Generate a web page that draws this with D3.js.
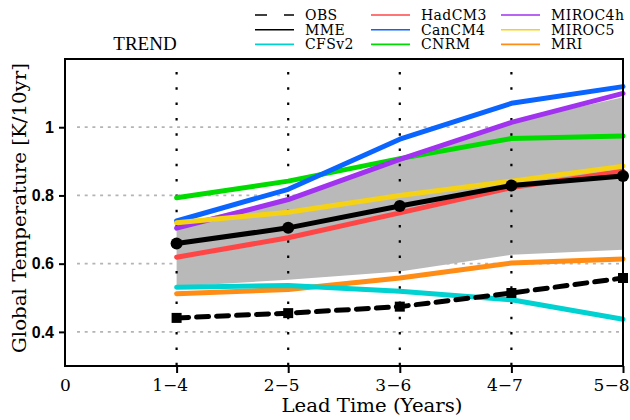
<!DOCTYPE html>
<html>
<head>
<meta charset="utf-8">
<script src="https://cdn.jsdelivr.net/npm/d3@7"></script>
<style>
  html, body { margin: 0; padding: 0; background: #fff; }
  svg { display: block; }
</style>
</head>
<body>
<svg id="chart" width="630" height="420"></svg>
<script>
// Lead-time windows (years) and the trend of global temperature [K/10yr]
const leadLabels = ["1−4", "2−5", "3−6", "4−7", "5−8"];
const leadPos = [1, 2, 3, 4, 5];
const yTicks = [0.4, 0.6, 0.8, 1.0];

const obs     = [0.441, 0.455, 0.474, 0.514, 0.558];
const mme     = [0.659, 0.705, 0.769, 0.829, 0.857];
const cfsv2   = [0.531, 0.536, 0.519, 0.494, 0.437];
const hadcm3  = [0.619, 0.676, 0.749, 0.823, 0.871];
const cancm4  = [0.725, 0.818, 0.965, 1.070, 1.119];
const cnrm    = [0.793, 0.842, 0.908, 0.967, 0.974];
const miroc4h = [0.704, 0.788, 0.906, 1.014, 1.099];
const miroc5  = [0.720, 0.751, 0.800, 0.842, 0.886];
const mri     = [0.512, 0.524, 0.558, 0.602, 0.614];

// model spread shading
const bandLow  = [0.533, 0.553, 0.577, 0.626, 0.641];
const bandHigh = [0.715, 0.790, 0.900, 1.015, 1.088];

const models = [
  { name: "CNRM",    values: cnrm,    color: "#00dc00" },
  { name: "MRI",     values: mri,     color: "#ff8c14" },
  { name: "HadCM3",  values: hadcm3,  color: "#ff4646" },
  { name: "CanCM4",  values: cancm4,  color: "#0a64ff" },
  { name: "MIROC4h", values: miroc4h, color: "#a032f0" },
  { name: "MIROC5",  values: miroc5,  color: "#f5d214" },
  { name: "CFSv2",   values: cfsv2,   color: "#00d2d2" }
];

const legendItems = [
  { name: "OBS",     color: "#000", dash: "12,17" },
  { name: "MME",     color: "#000" },
  { name: "CFSv2",   color: "#00d2d2" },
  { name: "HadCM3",  color: "#ff4646" },
  { name: "CanCM4",  color: "#0a64ff" },
  { name: "CNRM",    color: "#00dc00" },
  { name: "MIROC4h", color: "#a032f0" },
  { name: "MIROC5",  color: "#f5d214" },
  { name: "MRI",     color: "#ff8c14" }
];

const svg = d3.select("#chart");
const plotLeft = 65, plotRight = 623, plotTop = 59, plotBottom = 366;

const x = d3.scaleLinear().domain([0, 5]).range([plotLeft, plotRight]);
const y = d3.scaleLinear().domain([0.3, 1.2]).range([plotBottom, plotTop]);

const lineGen = d3.line().x((d, i) => x(leadPos[i])).y(d => y(d));

// horizontal dashed gridlines
svg.append("g").selectAll("line").data(yTicks).join("line")
  .attr("x1", plotLeft + 12).attr("x2", plotRight)
  .attr("y1", d => y(d)).attr("y2", d => y(d))
  .attr("stroke", "#b4b4b4").attr("stroke-width", 1.8)
  .attr("stroke-dasharray", "3,4.7");

// spread band
svg.append("path")
  .attr("d", d3.area()
    .x(d => x(d))
    .y0((d, i) => y(bandLow[i]))
    .y1((d, i) => y(bandHigh[i]))(leadPos))
  .attr("fill", "#b9b9b9");

// vertical dotted lines at each lead window
svg.append("g").selectAll("line").data(leadPos.slice(0, 4)).join("line")
  .attr("x1", d => x(d)).attr("x2", d => x(d))
  .attr("y1", plotTop + 13).attr("y2", plotBottom)
  .attr("stroke", "#000").attr("stroke-width", 2.2)
  .attr("stroke-dasharray", "2.5,12.8");

// model lines
svg.append("g").selectAll("path").data(models).join("path")
  .attr("d", d => lineGen(d.values))
  .attr("fill", "none")
  .attr("stroke", d => d.color)
  .attr("stroke-width", 5)
  .attr("stroke-linecap", "round")
  .attr("stroke-linejoin", "round");

// observations: dashed line with square markers
svg.append("path")
  .attr("d", lineGen(obs))
  .attr("fill", "none").attr("stroke", "#000")
  .attr("stroke-width", 5).attr("stroke-linecap", "round")
  .attr("stroke-dasharray", "12,8");
svg.append("g").selectAll("rect").data(obs).join("rect")
  .attr("x", (d, i) => x(leadPos[i]) - 5)
  .attr("y", d => y(d) - 5)
  .attr("width", 10).attr("height", 10)
  .attr("fill", "#000");

// multi-model ensemble mean with circle markers
svg.append("path")
  .attr("d", lineGen(mme))
  .attr("fill", "none").attr("stroke", "#000")
  .attr("stroke-width", 5).attr("stroke-linecap", "round")
  .attr("stroke-linejoin", "round");
svg.append("g").selectAll("circle").data(mme).join("circle")
  .attr("cx", (d, i) => x(leadPos[i]))
  .attr("cy", d => y(d))
  .attr("r", 6).attr("fill", "#000");

// frame
svg.append("rect")
  .attr("x", plotLeft).attr("y", plotTop)
  .attr("width", plotRight - plotLeft).attr("height", plotBottom - plotTop)
  .attr("fill", "none").attr("stroke", "#000").attr("stroke-width", 2);

// x axis
const xAxis = d3.axisBottom(x)
  .tickValues([0].concat(leadPos))
  .tickFormat(d => d === 0 ? "0" : leadLabels[d - 1])
  .tickSize(7).tickPadding(6);
const gx = svg.append("g").attr("transform", `translate(0,${plotBottom})`).call(xAxis);
gx.select(".domain").remove();
gx.selectAll(".tick line").attr("stroke", "#000").attr("stroke-width", 2)
  .filter(d => d === 0).remove();
gx.selectAll(".tick text")
  .attr("font-family", "DejaVu Serif").attr("font-size", 17).attr("fill", "#000")
  .attr("dx", d => d === 0 ? 0 : -7);
// keep the last lead label inside the canvas
gx.selectAll(".tick text").filter(d => d === 5)
  .attr("text-anchor", "end").attr("dx", 6);

// y axis
const yAxis = d3.axisLeft(y)
  .tickValues(yTicks)
  .tickFormat(d => d === 1 ? "1" : d3.format(".1f")(d))
  .tickSize(6).tickPadding(5);
const gy = svg.append("g").attr("transform", `translate(${plotLeft},0)`).call(yAxis);
gy.select(".domain").remove();
gy.selectAll(".tick line").attr("stroke", "#000").attr("stroke-width", 2);
gy.selectAll(".tick text")
  .attr("font-family", "Liberation Sans").attr("font-weight", "bold")
  .attr("font-size", 16).attr("fill", "#000");

// axis titles
svg.append("text")
  .attr("x", (plotLeft + plotRight) / 2 + 28).attr("y", 412)
  .attr("text-anchor", "middle")
  .attr("font-family", "DejaVu Serif").attr("font-size", 18)
  .attr("textLength", 181).attr("lengthAdjust", "spacingAndGlyphs")
  .text("Lead Time (Years)");

svg.append("text")
  .attr("transform", "translate(26,208) rotate(-90)")
  .attr("text-anchor", "middle")
  .attr("font-family", "DejaVu Serif").attr("font-size", 18)
  .attr("textLength", 290).attr("lengthAdjust", "spacingAndGlyphs")
  .text("Global Temperature [K/10yr]");

// panel title
svg.append("text")
  .attr("x", 145).attr("y", 50)
  .attr("text-anchor", "middle")
  .attr("font-family", "Liberation Serif").attr("font-size", 19)
  .text("TREND");

// legend: three columns of three rows
const legend = svg.append("g");
const colX = [255, 371, 501];
const rowY = [15, 29.7, 44.4];
legendItems.forEach((item, k) => {
  const cx = colX[Math.floor(k / 3)], cy = rowY[k % 3];
  legend.append("line")
    .attr("x1", cx).attr("x2", cx + 39)
    .attr("y1", cy).attr("y2", cy)
    .attr("stroke", item.color).attr("stroke-width", 1.6)
    .attr("stroke-dasharray", item.dash || null);
  legend.append("text")
    .attr("x", cx + 50).attr("y", cy + 5)
    .attr("font-family", "DejaVu Serif").attr("font-size", 14)
    .attr("letter-spacing", 0.4)
    .attr("fill", "#000")
    .text(item.name);
});
</script>
</body>
</html>
